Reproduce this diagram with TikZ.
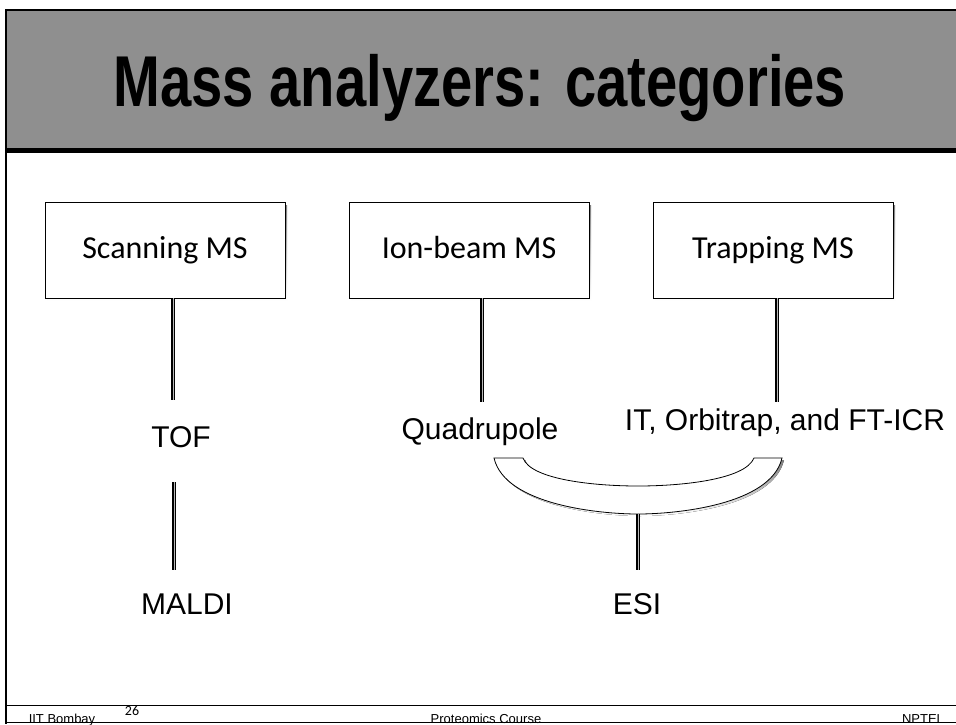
\documentclass[tikz,border=0pt]{standalone}
\usepackage{fontspec}
\usetikzlibrary{calc}
\setmainfont{Liberation Sans}
\newfontfamily\boxfont{Carlito}
\definecolor{hdr}{HTML}{8F8F8F}
\definecolor{shade}{HTML}{CFCFCF}
\begin{document}
\begin{tikzpicture}[x=1pt,y=-1pt,
  catbox/.style={draw=black, line width=0.9pt, fill=white, minimum width=240pt, minimum height=96pt, inner sep=0pt, text height=22pt, text depth=6pt, font=\boxfont\fontsize{32}{36}\selectfont},
  lbl/.style={inner sep=0pt, font=\fontsize{30}{34}\selectfont},
  dline/.style={draw=black, line width=1.5pt, double=gray!55, double distance=0.8pt},
  foot/.style={inner sep=0pt, font=\fontsize{13}{15}\selectfont, anchor=base}]
\useasboundingbox (0,0) rectangle (956,724);
\fill[white] (0,0) rectangle (956,724);
% header
\fill[hdr] (6,10) rectangle (956,150);
\draw[line width=1.6pt] (6,10) -- (956,10);
\draw[line width=5pt] (6,150.5) -- (956,150.5);
\draw[line width=2.4pt] (6,9) -- (6,724);
\node[inner sep=0pt, xscale=0.78, font=\bfseries\fontsize{72}{80}\selectfont,
  preaction={}] (title) at (480,88) {Mass analyzers: categories};
% boxes with shadows
\fill[shade] (47,205) rectangle (287,301);
\fill[shade] (351,205) rectangle (591,301);
\fill[shade] (655,205) rectangle (895,301);
\node[catbox] (scan) at (165,250) {Scanning MS};
\node[catbox] (ion) at (469,250) {Ion-beam MS};
\node[catbox] (trap) at (773,250) {Trapping MS};
% labels
\node[lbl] (tof) at (181,437) {TOF};
\node[lbl] (maldi) at (187,604) {MALDI};
\node[lbl] (quad) at (480,432) {Quadrupole};
\node[lbl] (itorb) at (785,423) {IT, Orbitrap, and FT-ICR};
\node[lbl] (esi) at (637,604) {ESI};
% connector ends
\coordinate (c1) at (173,400);
\coordinate (c2a) at (174,482);
\coordinate (c2b) at (174,570);
\coordinate (c3) at (482,402);
\coordinate (c4) at (777,402);
\coordinate (bl) at (494,458);
\coordinate (br) at (782,458);
\coordinate (bbot) at (638,514);
\coordinate (c5) at (638,570);
\draw[dline] (scan.south -| c1) -- (c1);
\draw[dline] (c2a) -- (c2b);
\draw[dline] (ion.south -| c3) -- (c3);
\draw[dline] (trap.south -| c4) -- (c4);
% brace shadow
\fill[shade] (496,460) .. controls (507,507) and (602,516) .. (640,516)
  .. controls (678,516) and (773,507) .. (784,460) -- (756,460)
  .. controls (747,482) and (682,488) .. (640,488)
  .. controls (598,488) and (533,482) .. (525,460) -- cycle;
% brace
\draw[line width=0.8pt, fill=white] (bl) .. controls (505,505) and (600,514) .. (bbot)
  .. controls (676,514) and (771,505) .. (br) -- (754,458)
  .. controls (745,480) and (680,486) .. (638,486)
  .. controls (596,486) and (531,480) .. (523,458) -- cycle;
\draw[dline] (bbot) -- (c5);
% footer
\draw[line width=0.8pt] (6,705) -- (956,705);
\draw[line width=0.8pt] (6,722.5) -- (956,722.5);
\node[foot] (f1) at (62,723) {IIT Bombay};
\node[foot, font=\boxfont\fontsize{14}{15}\selectfont] (f2) at (132,715) {26};
\node[foot] (f3) at (486,723) {Proteomics Course};
\node[foot] (f4) at (923,723) {NPTEL};
\end{tikzpicture}
\end{document}
